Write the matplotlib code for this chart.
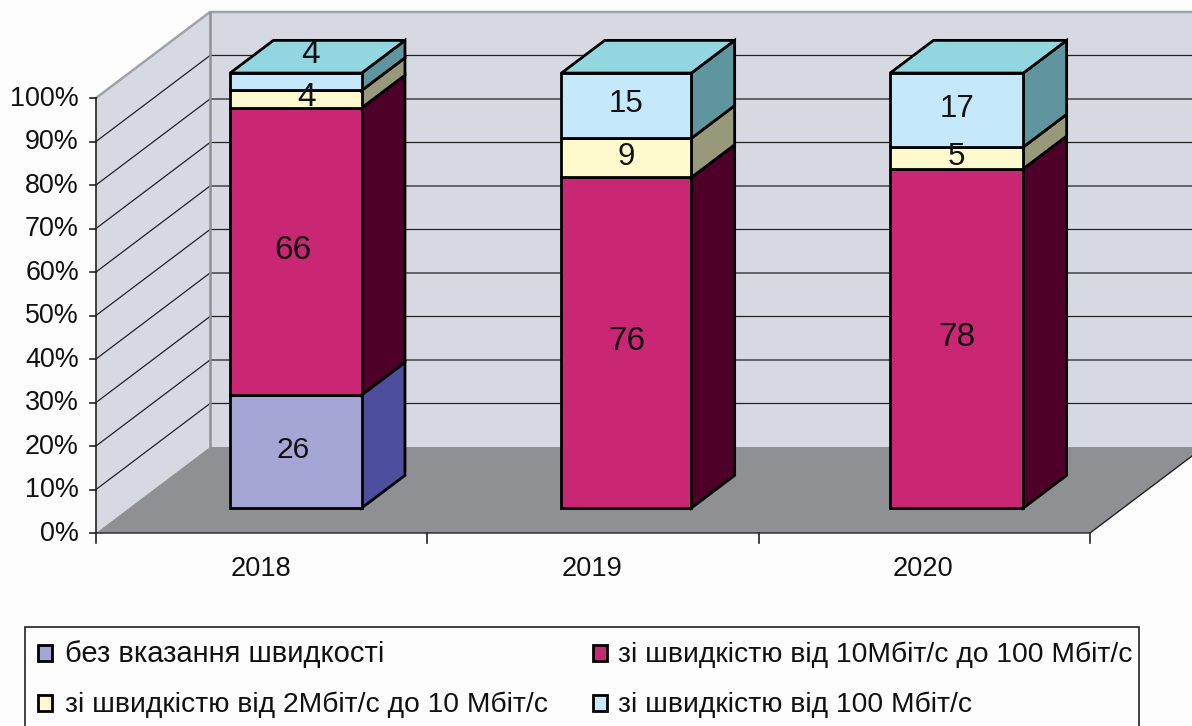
from matplotlib import pyplot as plt
from matplotlib.patches import Polygon, Rectangle

plt.rcParams['font.family'] = ['Liberation Sans', 'DejaVu Sans']

years = ['2018', '2019', '2020']
no_speed = [26, 0, 0]
speed_10_100 = [66, 76, 78]
speed_2_10 = [4, 9, 5]
speed_100 = [4, 15, 17]
pct_ticks = [0, 10, 20, 30, 40, 50, 60, 70, 80, 90, 100]
legend_labels = ['без вказання швидкості', 'зі швидкістю від 10Мбіт/с до 100 Мбіт/с',
                 'зі швидкістю від 2Мбіт/с до 10 Мбіт/с', 'зі швидкістю від 100 Мбіт/с']

series = [no_speed, speed_10_100, speed_2_10, speed_100]
front_cols = ['#a6a6d6', '#c92673', '#fffacd', '#c5e8fb']
side_cols = ['#4d4f9e', '#4f0028', '#98987a', '#5e959e']
top_col = '#92d7df'

W, H = 1192, 726
px_x = 331.33   # px per category
px_y = 4.35     # px per percent
depth_x = 114 / px_x
depth_y = 86 / px_y

fig = plt.figure(figsize=(W / 100, H / 100), dpi=100, facecolor='#fdfdfe')
ax = fig.add_axes([0, 0, 1, 1])
ax.set_xlim(-96 / px_x, (W - 96) / px_x)
ax.set_ylim((533 - H) / px_y, 533 / px_y)
ax.axis('off')


def proj(x, y, d):
    # d is depth, 0 = front of the chart, 1 = back wall
    return (x + d * depth_x, y + d * depth_y)


def poly(pts, col, edge='none', lw=0, z=1):
    ax.add_patch(Polygon(pts, closed=True, facecolor=col, edgecolor=edge, linewidth=lw,
                         joinstyle='miter', zorder=z))


# walls and floor
n = len(years)
wall = '#d6d9e2'
poly([proj(0, 0, 0), proj(0, 100, 0), proj(0, 100, 1), proj(0, 0, 1)], wall)
poly([proj(0, 0, 1), proj(0, 100, 1), proj(n, 100, 1), proj(n, 0, 1)], wall)
poly([proj(0, 0, 0), proj(n, 0, 0), proj(n, 0, 1), proj(0, 0, 1)], '#8f9094')

for p in pct_ticks[1:-1]:
    a, b, c = proj(0, p, 0), proj(0, p, 1), proj(n, p, 1)
    ax.plot([a[0], b[0], c[0]], [a[1], b[1], c[1]], color='#222222', lw=0.9, zorder=2)

# grey wall outline
a, b, c, d = proj(0, 100, 0), proj(0, 100, 1), proj(n, 100, 1), proj(0, 0, 1)
ax.plot([a[0], b[0], c[0]], [a[1], b[1], c[1]], color='#a0a2a6', lw=1.8, zorder=2)
ax.plot([b[0], d[0]], [b[1], d[1]], color='#8f9094', lw=1.8, zorder=2)

# floor front and right edges
a, b, c = proj(0, 0, 0), proj(n, 0, 0), proj(n, 0, 1)
ax.plot([a[0], b[0], c[0]], [a[1], b[1], c[1]], color='#222222', lw=1.0, zorder=2)

# axes and ticks
ax.plot([0, 0], [0, 100], color='#222222', lw=1.2, zorder=3)
for p in pct_ticks:
    ax.plot([-6 / px_x, 0], [p, p], color='#222222', lw=1.2, zorder=3)
    ax.text(-17 / px_x, p - 0.2, str(p) + '%', ha='right', va='center', fontsize=19.4, color='#111111')
for i in range(n + 1):
    ax.plot([i, i], [0, -10 / px_y], color='#222222', lw=1.2, zorder=3)
for i, yr in enumerate(years):
    ax.text(i + 0.5 - 1 / px_x, -36 / px_y, yr, ha='center', va='center', fontsize=19.6, color='#111111')

# stacked 3d bars
bar_l = [0.305, 0.305, 0.297]
bar_w = [0.397, 0.392, 0.402]
d0 = 0.29
d1 = 0.67
for i in range(n):
    x0 = i + bar_l[i]
    x1 = x0 + bar_w[i]
    base = 0
    for s, vals in enumerate(series):
        v = vals[i]
        if v == 0:
            continue
        z = 5 + s
        poly([proj(x1, base, d0), proj(x1, base + v, d0), proj(x1, base + v, d1), proj(x1, base, d1)],
             side_cols[s], 'black', 2.0, z)
        poly([proj(x0, base, d0), proj(x1, base, d0), proj(x1, base + v, d0), proj(x0, base + v, d0)],
             front_cols[s], 'black', 2.0, z)
        base += v
    poly([proj(x0, base, d0), proj(x1, base, d0), proj(x1, base, d1), proj(x0, base, d1)],
         top_col, 'black', 2.0, 10)

    # value labels
    base = 0
    for s, vals in enumerate(series):
        v = vals[i]
        if v == 0:
            continue
        lx, ly = proj(x0 + bar_w[i] / 2, base + v / 2 + 0.3, d0)
        fs = 22.5
        if s == 1:
            fs = 24
        if i == 0 and s == 0:
            fs = 21.5
            lx -= 3 / px_x
        if i == 0 and s == 1:
            lx -= 3 / px_x
        if i == 0 and s == 2:
            lx += 11 / px_x
            fs = 24
        if i == 0 and s == 3:
            # sits on the top face in the original
            lx += 15 / px_x
            ly += 26 / px_y
            fs = 24
        ax.text(lx, ly, str(v), ha='center', va='center', fontsize=fs, color='#111111', zorder=20)
        base += v

# legend, drawn in pixel coordinates
lax = fig.add_axes([0, 0, 1, 1], facecolor='none')
lax.set_xlim(0, W)
lax.set_ylim(H, 0)
lax.axis('off')
lax.add_patch(Rectangle((25, 627), 1114, 130, facecolor='#fdfdfe', edgecolor='#222222', linewidth=1.2))
leg_x = [38, 593]
leg_y = [653, 703]
leg_fs = [21, 20.3, 20.3, 20.3]
for k in range(4):
    cx = leg_x[k % 2]
    cy = leg_y[k // 2]
    lax.add_patch(Rectangle((cx, cy - 8), 14, 16, facecolor=front_cols[k], edgecolor='black', linewidth=2.0))
    lax.text(cx + 27 - (2 if k % 2 else 0), cy + 1.5, legend_labels[k], ha='left', va='center',
             fontsize=leg_fs[k], color='#111111')

fig.savefig('out.png', dpi=100, facecolor=fig.get_facecolor())
